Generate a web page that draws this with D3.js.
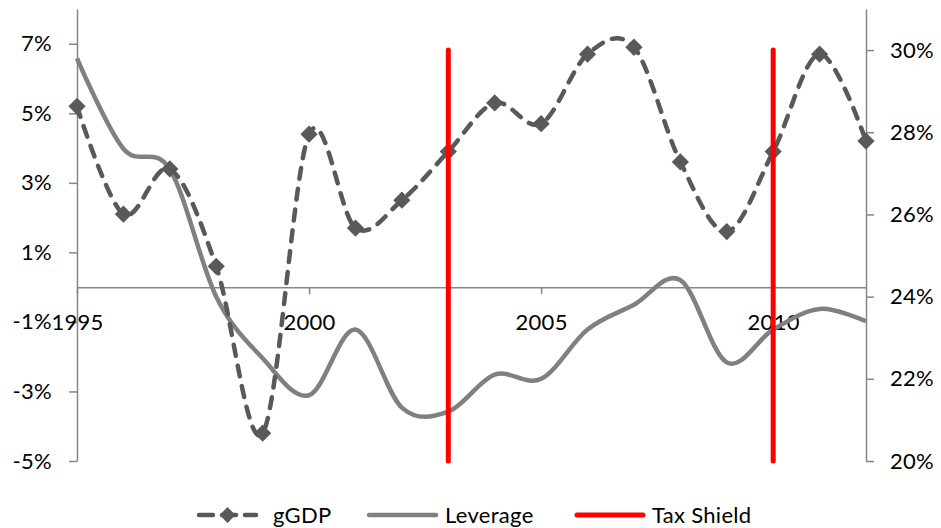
<!DOCTYPE html>
<html>
<head>
<meta charset="utf-8">
<script src="https://cdn.jsdelivr.net/npm/d3@7"></script>
<style>
  html, body { margin: 0; padding: 0; background: #fff; }
  svg text { font-family: Lato, "Open Sans", sans-serif; fill: #000; letter-spacing: 0.3px; }
</style>
</head>
<body>
<svg id="chart" width="941" height="528"></svg>
<script>
// Annual series, 1995-2012
const years = [1995, 1996, 1997, 1998, 1999, 2000, 2001, 2002, 2003, 2004, 2005, 2006, 2007, 2008, 2009, 2010, 2011, 2012];
const gGDP = [5.2, 2.1, 3.4, 0.6, -4.2, 4.4, 1.7, 2.5, 3.9, 5.3, 4.7, 6.7, 6.9, 3.6, 1.6, 3.9, 6.7, 4.2];      // left axis, %
const leverage = [29.8, 27.6, 27.1, 24.0, 22.5, 21.6, 23.2, 21.3, 21.2, 22.1, 22.0, 23.2, 23.8, 24.4, 22.4, 23.2, 23.7, 23.4]; // right axis, %
const taxShieldYears = [2003, 2010];
const taxShieldRange = [20, 30];                 // right axis, %
const leftTicks = [-5, -3, -1, 1, 3, 5, 7];
const rightTicks = [20, 22, 24, 26, 28, 30];
const xLabelYears = [1995, 2000, 2005, 2010];
const legendNames = ["gGDP", "Leverage", "Tax Shield"];

const svg = d3.select("#chart");
const plotLeft = 77, plotRight = 866, plotTop = 9, plotBottom = 461;

const x = d3.scalePoint().domain(years).range([plotLeft, plotRight]);
const yL = d3.scaleLinear().domain([-5, 8]).range([plotBottom, plotTop]);
const yR = d3.scaleLinear().domain([20, 31]).range([plotBottom, plotTop]);

const axisColor = "#868686";
const fontSize = 22;
const pct = d => String(d) + "%";

// Left axis
const gL = svg.append("g").attr("transform", `translate(${plotLeft},0)`)
  .call(d3.axisLeft(yL).tickValues(leftTicks).tickFormat(pct).tickSize(8).tickPadding(17).tickSizeOuter(0));
// Right axis
const gR = svg.append("g").attr("transform", `translate(${plotRight},0)`)
  .call(d3.axisRight(yR).tickValues(rightTicks).tickFormat(pct).tickSize(8).tickPadding(16).tickSizeOuter(0));
// Category axis along the zero line
const gX = svg.append("g").attr("transform", `translate(0,${yL(0)})`)
  .call(d3.axisBottom(x).tickValues(xLabelYears).tickSize(7).tickPadding(20).tickSizeOuter(0));

[gL, gR, gX].forEach(g => {
  g.select(".domain").attr("stroke", axisColor).attr("stroke-width", 1.5);
  g.selectAll(".tick line").attr("stroke", axisColor).attr("stroke-width", 1.5);
  g.selectAll(".tick text").attr("font-size", fontSize).attr("font-family", "Lato, 'Open Sans', sans-serif").attr("fill", "#000");
});

const curve = d3.curveCatmullRom.alpha(0);

// Leverage (right axis)
svg.append("path")
  .datum(years.map((yr, i) => [yr, leverage[i]]))
  .attr("fill", "none").attr("stroke", "#808080").attr("stroke-width", 4.5)
  .attr("stroke-linejoin", "round")
  .attr("d", d3.line().x(d => x(d[0])).y(d => yR(d[1])).curve(curve));

// gGDP (left axis), dashed with diamond markers
const gdpColor = "#595959";
svg.append("path")
  .datum(years.map((yr, i) => [yr, gGDP[i]]))
  .attr("fill", "none").attr("stroke", gdpColor).attr("stroke-width", 4.5)
  .attr("stroke-dasharray", "11,10").attr("stroke-linecap", "round")
  .attr("d", d3.line().x(d => x(d[0])).y(d => yL(d[1])).curve(curve));

const diamond = d3.symbol().type(d3.symbolDiamond2).size(190);
svg.append("g").selectAll("path")
  .data(years.map((yr, i) => [yr, gGDP[i]]))
  .join("path")
  .attr("transform", d => `translate(${x(d[0])},${yL(d[1])})`)
  .attr("d", diamond)
  .attr("fill", gdpColor);

// Tax shield markers (vertical red bars)
svg.append("g").selectAll("line")
  .data(taxShieldYears)
  .join("line")
  .attr("x1", d => x(d)).attr("x2", d => x(d))
  .attr("y1", yR(taxShieldRange[1])).attr("y2", yR(taxShieldRange[0]))
  .attr("stroke", "#ff0000").attr("stroke-width", 5).attr("stroke-linecap", "round");

// Legend
const legY = 515;
const leg = svg.append("g");
const items = [
  { x0: 199, x1: 256, tx: 273, color: gdpColor, dash: "14,9", width: 4.5, marker: true },
  { x0: 369, x1: 436, tx: 445, color: "#808080", dash: null, width: 4.5, marker: false },
  { x0: 577, x1: 643, tx: 652, color: "#ff0000", dash: null, width: 5, marker: false }
];
items.forEach((it, i) => {
  leg.append("line")
    .attr("x1", it.x0).attr("x2", it.x1).attr("y1", legY).attr("y2", legY)
    .attr("stroke", it.color).attr("stroke-width", it.width)
    .attr("stroke-linecap", "round")
    .attr("stroke-dasharray", it.dash);
  if (it.marker) {
    leg.append("path").attr("d", d3.symbol().type(d3.symbolDiamond2).size(160))
      .attr("transform", `translate(${(it.x0 + it.x1) / 2},${legY})`)
      .attr("fill", it.color);
  }
  leg.append("text")
    .attr("x", it.tx).attr("y", legY).attr("dy", "0.35em")
    .attr("font-size", fontSize)
    .text(legendNames[i]);
});
</script>
</body>
</html>
